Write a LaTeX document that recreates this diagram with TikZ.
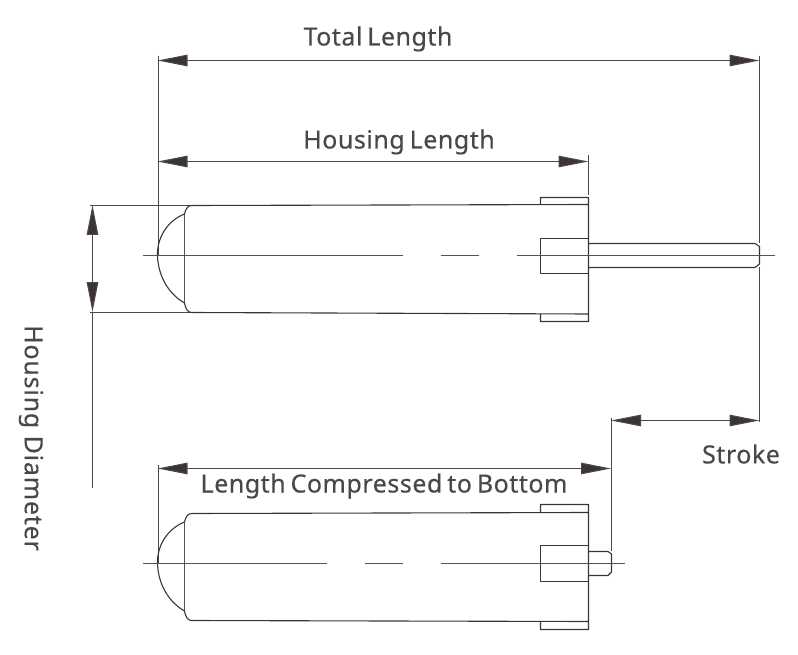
\documentclass[tikz,border=0pt]{standalone}
\usepackage{fontspec}
\setmainfont[LetterSpace=2.1,WordSpace=0.7,FakeBold=0.3]{Noto Sans}
\newfontfamily\widerfont[LetterSpace=3.2,WordSpace=1.0,FakeBold=0.3]{Noto Sans}
\usetikzlibrary{arrows.meta}
\definecolor{ink}{HTML}{3A3533}
\definecolor{label}{HTML}{4A4745}
\tikzset{
  part/.style={draw=ink,line width=1.1pt,line join=round},
  thin part/.style={draw=ink!85,line width=1.1pt},
  dimline/.style={draw=ink!90,line width=1.1pt,{Triangle[length=30pt,width=11.5pt,fill=ink]}-{Triangle[length=30pt,width=11.5pt,fill=ink]}},
  extline/.style={draw=ink!90,line width=1.1pt},
  dimtext/.style={text=label,font=\fontsize{25}{29}\selectfont,inner sep=0pt,anchor=center}
}
\begin{document}
\begin{tikzpicture}[x=1pt,y=-1pt]
\useasboundingbox (0,0) rectangle (798,655);
% dimension end points
\coordinate (tl) at (157.5,60.5); \coordinate (tr) at (759.5,60.5);
\coordinate (hl) at (157.5,161.5); \coordinate (hr) at (588.5,161.5);
\coordinate (dt) at (92.5,205); \coordinate (db) at (92.5,312);
\coordinate (sl) at (611,420.5); \coordinate (sr) at (759.5,420.5);
\coordinate (cl) at (157.5,468.5); \coordinate (cr) at (611,468.5);
% extension lines
\draw[extline] (158.5,56) -- (158.5,255);
\draw[extline] (759.5,56) -- (759.5,243);
\draw[extline] (759.5,267) -- (759.5,422);
\draw[extline] (588.5,155) -- (588.5,195);
\draw[extline] (90,205.5) -- (192,205.5);
\draw[extline] (90,312.5) -- (192,312.5);
\draw[extline] (92.5,312) -- (92.5,488);
\draw[extline] (611.5,418) -- (611.5,551);
\draw[extline] (158.5,465) -- (158.5,563);
% dimension lines
\draw[dimline] (tl) -- (tr);
\draw[dimline] (hl) -- (hr);
\draw[dimline] (dt) -- (db);
\draw[dimline] (sl) -- (sr);
\draw[dimline] (cl) -- (cr);
% upper cylinder
\draw[part] (184.5,214) .. controls (186,208) and (188,205.5) .. (192,205.5) -- (588.5,204.5) (540.5,204.5) -- (540.5,197.5) -- (588.5,197.5) -- (588.5,321.5) -- (540.5,321.5) -- (540.5,314) (588.5,314) -- (192,312.5) .. controls (188,312.5) and (186,310) .. (184.5,303);
\draw[thin part] (184.5,214) -- (184.5,303);
\draw[part] (184.5,214) .. controls (167,221) and (157,238) .. (157.5,255.5) .. controls (158,274) and (167,293) .. (184.5,303);
\draw[part] (540.5,238.5) rectangle (588.5,273.5);
\draw[part] (588.5,243.5) -- (755,243.5) -- (759.5,246.5) -- (759.5,264) -- (755,267.5) -- (588.5,267.5);
\draw[thin part] (143,255.5) -- (403,255.5) (441,255.5) -- (479,255.5) (517,255.5) -- (775,255.5);
% lower cylinder
\draw[part] (184.5,522) .. controls (186,516) and (188,513.5) .. (192,513.5) -- (588.5,512.5) (540.5,512.5) -- (540.5,504.5) -- (588.5,504.5) -- (588.5,629.5) -- (540.5,629.5) -- (540.5,621.5) (588.5,621.5) -- (192,620.5) .. controls (188,620.5) and (186,618) .. (184.5,611);
\draw[thin part] (184.5,522) -- (184.5,611);
\draw[part] (184.5,522) .. controls (167,529) and (157,546) .. (157.5,563.5) .. controls (158,582) and (167,601) .. (184.5,611);
\draw[part] (540.5,545.5) rectangle (588.5,581.5);
\draw[part] (588.5,551.5) -- (608,551.5) -- (611.5,554) -- (611.5,572) -- (608,575.5) -- (588.5,575.5);
\draw[thin part] (143,563.5) -- (327,563.5) (365,563.5) -- (403,563.5) (441,563.5) -- (625,563.5);
% labels
\node[dimtext] (total) at (378,39) {Total Length};
\node[dimtext] (housing) at (399,142) {Housing Length};
\node[dimtext] (compressed) at (384,486) {Length Compressed to Bottom};
\node[dimtext] (stroke) at (741,454) {Stroke};
\node[dimtext,rotate=-90] (diameter) at (31,438) {\widerfont Housing Diameter};
\end{tikzpicture}
\end{document}
